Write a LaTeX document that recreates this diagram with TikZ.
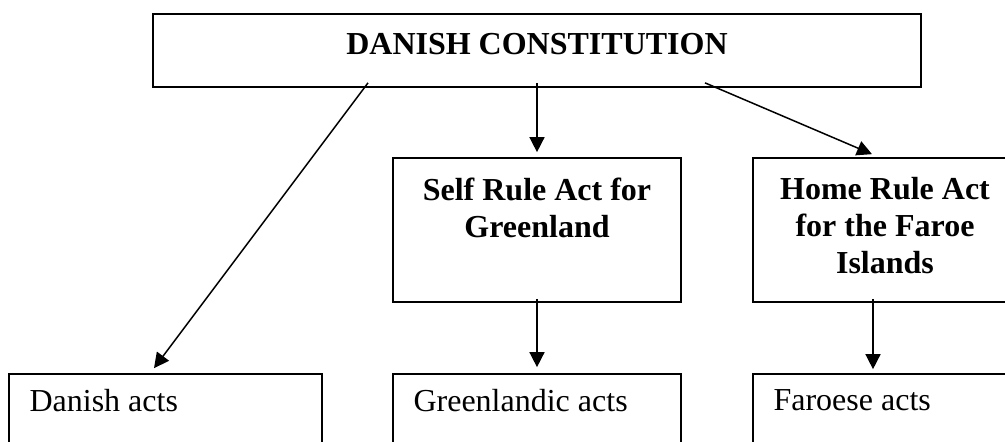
\documentclass[tikz,border=0pt]{standalone}
\usepackage{fontspec}
\setmainfont{Liberation Serif}
\usepackage{tikz}
\usetikzlibrary{arrows.meta}

\tikzset{
  actbox/.style={draw=black, line width=0.85pt, inner sep=0pt},
  boxhead/.style={anchor=north, inner sep=0pt, yshift=-10pt, align=center, text=black, font=\fontsize{16pt}{18.5pt}\selectfont\bfseries},
  boxtext/.style={anchor=north west, inner sep=0pt, xshift=10.5pt, yshift=-8pt, text=black, font=\fontsize{16pt}{18.5pt}\selectfont},
  actarrow/.style={line width=0.75pt, -{Triangle[length=7.5pt, width=7.5pt]}}
}

\begin{document}
\begin{tikzpicture}[x=1pt, y=1pt]%[scale=\tikzscale]
  \useasboundingbox (0,0) rectangle (502.5,-220.5);
  \clip (0,0) rectangle (502.5,-220.5);

  \node[actbox, minimum width=384pt, minimum height=36.5pt, label={[boxhead]north:DANISH CONSTITUTION}] (constitution) at (268.5, -25.25) {};

  \node[actbox, minimum width=144pt, minimum height=72pt, label={[boxhead]north:Self Rule Act for\\Greenland}] (selfrule) at (268.5, -115.0) {};
  \node[actbox, minimum width=132pt, minimum height=72pt, label={[boxhead]north:Home Rule Act\\for the Faroe\\Islands}] (homerule) at (442.5, -115.0) {};

  \node[actbox, minimum width=156.5pt, minimum height=60pt, label={[boxtext]north west:Danish acts}] (danishacts) at (82.75, -217.0) {};
  \node[actbox, minimum width=144pt, minimum height=60pt, label={[boxtext]north west:Greenlandic acts}] (greenlandicacts) at (268.5, -217.0) {};
  \node[actbox, minimum width=132pt, minimum height=60pt, label={[boxtext]north west:Faroese acts}] (faroeseacts) at (442.5, -217.0) {};

  \draw[actarrow] ([xshift=-84.5pt, yshift=2.5pt]constitution.south) -- ([xshift=-5.75pt, yshift=2.5pt]danishacts.north);
  \draw[actarrow] ([yshift=2.5pt]constitution.south) -- ([yshift=2.5pt]selfrule.north);
  \draw[actarrow] ([xshift=84pt, yshift=2.5pt]constitution.south) -- ([xshift=-6.5pt, yshift=1.5pt]homerule.north);

  \draw[actarrow] ([yshift=2pt]selfrule.south) -- ([yshift=3pt]greenlandicacts.north);
  \draw[actarrow] ([xshift=-6pt, yshift=2pt]homerule.south) -- ([xshift=-6pt, yshift=2pt]faroeseacts.north);
\end{tikzpicture}
\end{document}
